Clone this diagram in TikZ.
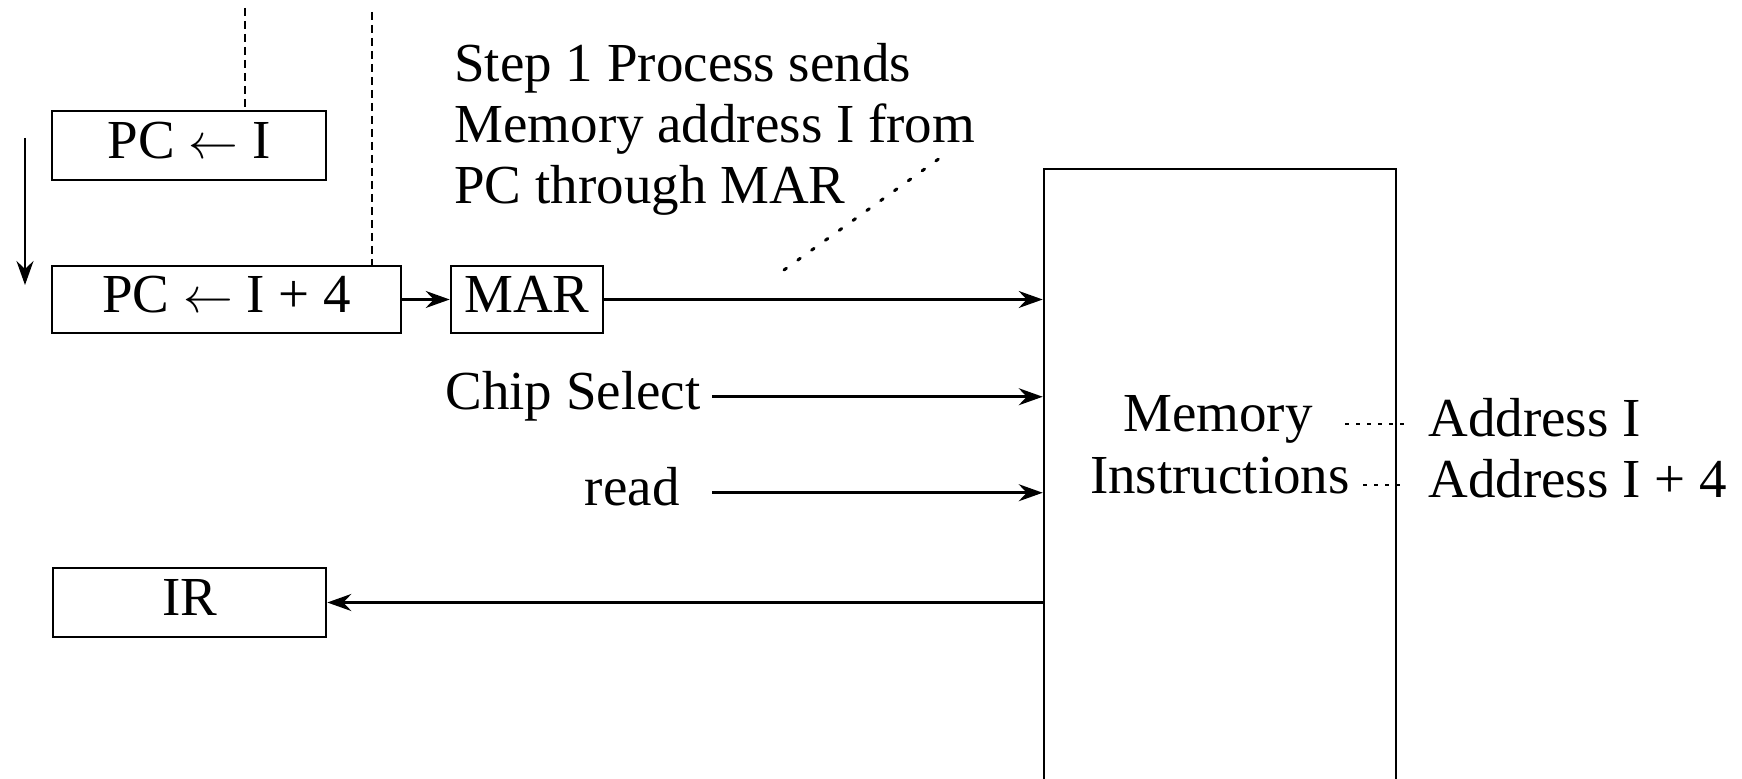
\documentclass[tikz,border=0pt]{standalone}
\usepackage{fontspec}
\setmainfont{Liberation Serif}
\usetikzlibrary{arrows.meta}
\begin{document}
\begin{tikzpicture}[x=0.5pt,y=-0.5pt,
  txt/.style={font=\fontsize{27.5}{30.5}\selectfont, inner sep=0pt, text height=19.25pt, text depth=6pt},
  reg/.style={txt, draw, line width=1.3pt},
  arr/.style={line width=1.3pt, -{Stealth[length=12pt,width=8.5pt,inset=4pt]}},
  dashline/.style={line width=1.1pt, dash pattern=on 4pt off 2.5pt},
  dotline/.style={line width=1.2pt, dash pattern=on 2pt off 3.5pt},
  stepdots/.style={line width=1.5pt, dash pattern=on 1.5pt off 7pt, line cap=round}]
\useasboundingbox (0,0) rectangle (1742,779);
\clip (0,0) rectangle (1742,779);
\fill[white] (0,0) rectangle (1742,779);

% registers
\node[reg, minimum width=137pt, minimum height=34.5pt] (pci) at (189,145.5) {PC $\leftarrow$ I};
\node[reg, minimum width=174.5pt, minimum height=33.5pt] (pc4) at (226.5,299.5) {PC $\leftarrow$ I + 4};
\node[reg, minimum width=76pt, minimum height=33.5pt] (mar) at (527,299.5) {MAR};
\node[reg, minimum width=136.5pt, minimum height=34.5pt] (ir) at (189.5,602.5) {IR};
\node[draw, line width=1.3pt, minimum width=176pt, minimum height=315.5pt, inner sep=0pt] (mem) at (1220,484.5) {};

% memory texts
\node[txt, anchor=base] (mem1) at (1218,432) {Memory};
\node[txt, anchor=base] (mem2) at (1220,494) {Instructions};
\node[txt, anchor=base west] (addr1) at (1428,437) {Address I};
\node[txt, anchor=base west] (addr2) at (1428,498) {Address I + 4};

% signal labels
\node[txt, anchor=base east] (chip) at (701,410) {Chip Select};
\node[txt, anchor=base east] (read) at (680,506) {read};

% step text
\node[font=\fontsize{27.5}{30.5}\selectfont, inner sep=0pt, anchor=north west, align=left] (step) at (454,42.7)
  {Step 1 Process sends\\Memory address I from\\PC through MAR};

% coordinates
\coordinate (d1) at (245,8);
\coordinate (d2) at (372,12);
\coordinate (da1) at (25,138);
\coordinate (da2) at (25,285);
\coordinate (s1) at (784,270);
\coordinate (s2) at (940,158);

% dashed lines
\draw[dashline] (d1) -- (d1 |- pci.north);
\draw[dashline] (d2) -- (d2 |- pc4.north);

% down arrow
\draw[arr] (da1) -- (da2);

% connectors
\draw[arr] (pc4.east) -- (mar.west);
\draw[arr] (mar.east) -- (mar.east -| mem.west);
\draw[arr, shorten <=5.5pt] (chip.east) -- (chip.east -| mem.west);
\draw[arr] (chip.east |- read.east) ++(5.5pt,0) -- (read.east -| mem.west);
\draw[arr] (mem.west |- ir.east) -- (ir.east);

% dotted
\draw[dotline, shorten <=16pt, shorten >=10.5pt] (mem1.east |- addr1.west) -- (addr1.west);
\draw[dotline, shorten <=6.5pt, shorten >=10.5pt] (mem2.east |- addr2.west) -- (addr2.west);
\draw[stepdots] (s1) -- (s2);
\end{tikzpicture}
\end{document}
